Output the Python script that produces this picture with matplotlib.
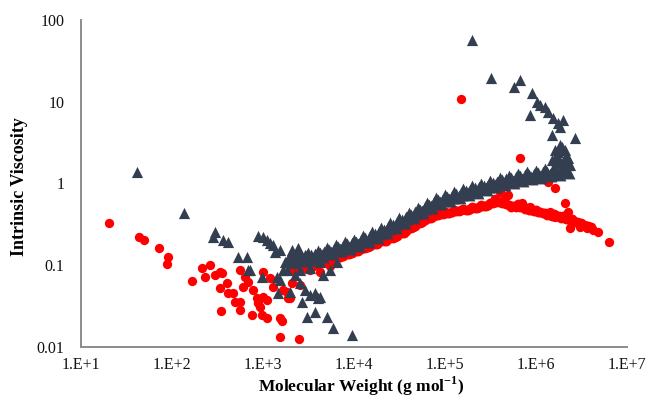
import numpy as np
import matplotlib
matplotlib.use("Agg")
import matplotlib.pyplot as plt

# upper series (triangles): dense band, read along both edges
dark_band_mw = [2.0e3, 2.24e3, 2.51e3, 2.82e3, 3.16e3, 3.55e3, 3.98e3, 4.47e3, 5.01e3, 5.62e3,
                6.31e3, 7.08e3, 7.94e3, 8.91e3, 1.0e4, 1.12e4, 1.26e4, 1.41e4, 1.58e4, 1.78e4,
                2.0e4, 2.24e4, 2.51e4, 2.82e4, 3.16e4, 3.55e4, 3.98e4, 4.47e4, 5.01e4, 5.62e4,
                6.31e4, 7.08e4, 7.94e4, 8.91e4, 1.0e5, 1.12e5, 1.26e5, 1.41e5, 1.58e5, 1.78e5,
                2.0e5, 2.24e5, 2.51e5, 2.82e5, 3.16e5, 3.55e5, 3.98e5, 4.47e5, 5.01e5, 5.62e5,
                6.31e5, 7.08e5, 7.94e5, 8.91e5, 1.0e6, 1.12e6, 1.26e6, 1.41e6, 1.58e6, 1.78e6,
                2.0e6, 2.24e6]
dark_band_iv = [0.128, 0.112, 0.133, 0.116, 0.136, 0.120, 0.144, 0.129, 0.157, 0.140,
                0.171, 0.153, 0.186, 0.164, 0.197, 0.179, 0.220, 0.200, 0.246, 0.223,
                0.275, 0.254, 0.318, 0.293, 0.365, 0.336, 0.420, 0.387, 0.484, 0.445,
                0.557, 0.513, 0.642, 0.574, 0.698, 0.624, 0.759, 0.680, 0.826, 0.741,
                0.900, 0.794, 0.951, 0.852, 1.036, 0.926, 1.126, 0.994, 1.19, 1.052,
                1.26, 1.11, 1.33, 1.16, 1.37, 1.21, 1.45, 1.26, 1.49, 1.30,
                1.53, 1.40]

# upper series: band centre
dark_mid_mw = [2.11e3, 2.37e3, 2.66e3, 2.99e3, 3.35e3, 3.76e3, 4.22e3, 4.73e3, 5.31e3, 5.96e3,
               6.68e3, 7.50e3, 8.41e3, 9.44e3, 1.06e4, 1.19e4, 1.33e4, 1.50e4, 1.68e4, 1.88e4,
               2.11e4, 2.37e4, 2.66e4, 2.99e4, 3.35e4, 3.76e4, 4.22e4, 4.73e4, 5.31e4, 5.96e4,
               6.68e4, 7.50e4, 8.41e4, 9.44e4, 1.06e5, 1.19e5, 1.33e5, 1.50e5, 1.68e5, 1.88e5,
               2.11e5, 2.37e5, 2.66e5, 2.99e5, 3.35e5, 3.76e5, 4.22e5, 4.73e5, 5.31e5, 5.96e5,
               6.68e5, 7.50e5, 8.41e5, 9.44e5, 1.06e6, 1.19e6, 1.33e6, 1.50e6, 1.68e6, 1.88e6,
               2.11e6]
dark_mid_iv = [0.120, 0.122, 0.124, 0.125, 0.128, 0.132, 0.136, 0.142, 0.148, 0.154,
               0.161, 0.168, 0.175, 0.180, 0.187, 0.198, 0.210, 0.222, 0.234, 0.248,
               0.264, 0.284, 0.305, 0.327, 0.350, 0.376, 0.403, 0.433, 0.464, 0.498,
               0.535, 0.574, 0.607, 0.633, 0.660, 0.688, 0.718, 0.750, 0.782, 0.816,
               0.845, 0.869, 0.900, 0.940, 0.980, 1.02, 1.058, 1.09, 1.12, 1.152,
               1.184, 1.218, 1.242, 1.26, 1.29, 1.327, 1.352, 1.372, 1.39, 1.41,
               1.44]

# upper series: scattered points
dark_mw = [41, 136, 297, 282, 363, 412, 531, 667, 684, 720, 881, 1000, 1107, 1194, 1288,
           1540, 1355, 975, 1427, 1660, 1838, 1982, 2140, 1540, 1462, 1982, 2550, 2900,
           2690, 3280, 4020, 3050, 3720, 5050, 5870, 9500, 4230, 4560, 3720, 3280, 4230,
           5450, 6500, 2550, 2250, 1745, 2085, 2425, 2900, 3450,
           1.98e5, 3.2e5, 5.73e5, 6.67e5, 9.03e5, 1.03e6, 1.11e6, 1.26e6, 1.36e6, 1.54e6,
           1.75e6, 1.98e6, 1.84e6, 8.6e5, 1.5e6, 2.69e6, 1.75e6, 1.93e6, 1.62e6, 2.08e6,
           2.37e6, 1.84e6, 1.62e6, 1.84e6, 2.08e6, 2.25e6, 1.75e6, 1.5e6, 1.98e6, 2.25e6]
dark_iv = [1.38, 0.435, 0.255, 0.222, 0.204, 0.192, 0.126, 0.126, 0.0875, 0.0875, 0.228,
           0.222, 0.204, 0.187, 0.177, 0.154, 0.145, 0.0718, 0.0718, 0.0875, 0.0875, 0.116,
           0.1065, 0.066, 0.0458, 0.0471, 0.0607, 0.0498, 0.0355, 0.0433, 0.0398, 0.0233,
           0.0268, 0.0233, 0.0171, 0.014, 0.0409, 0.076, 0.0458, 0.0925, 0.1096, 0.0875,
           0.1096, 0.0875, 0.076, 0.1096, 0.154, 0.163, 0.1335, 0.123,
           56.9, 19.5, 15.1, 18.5, 12.8, 9.93, 9.1, 8.6, 7.5, 6.3,
           5.5, 5.98, 4.9, 6.9, 3.92, 3.6, 2.43, 2.8, 1.94, 2.05,
           1.68, 1.83, 2.57, 2.96, 2.57, 2.05, 2.05, 1.94, 1.83, 1.7]

# lower series (circles): dense band
red_band_mw = [2.0e3, 2.24e3, 2.51e3, 2.82e3, 3.16e3, 3.55e3, 3.98e3, 4.47e3, 5.01e3, 5.62e3,
               6.31e3, 7.08e3, 7.94e3, 8.91e3, 1.0e4, 1.12e4, 1.26e4, 1.41e4, 1.58e4, 1.78e4,
               2.0e4, 2.24e4, 2.51e4, 2.82e4, 3.16e4, 3.55e4, 3.98e4, 4.47e4, 5.01e4, 5.62e4,
               6.31e4, 7.08e4, 7.94e4, 8.91e4, 1.0e5, 1.12e5, 1.26e5, 1.41e5, 1.58e5, 1.78e5,
               2.0e5, 2.24e5, 2.51e5, 2.82e5, 3.16e5, 3.55e5, 3.98e5, 4.47e5, 5.01e5, 5.62e5,
               6.31e5, 7.08e5, 7.94e5, 8.91e5, 1.0e6, 1.12e6, 1.26e6, 1.41e6, 1.58e6, 1.78e6,
               2.0e6, 2.24e6, 2.51e6, 2.82e6, 3.16e6, 3.55e6, 3.98e6]
red_band_iv = [0.092, 0.086, 0.099, 0.093, 0.105, 0.097, 0.111, 0.106, 0.120, 0.115,
               0.131, 0.126, 0.143, 0.137, 0.155, 0.150, 0.170, 0.166, 0.190, 0.183,
               0.206, 0.200, 0.224, 0.221, 0.251, 0.250, 0.287, 0.290, 0.333, 0.337,
               0.382, 0.383, 0.426, 0.421, 0.446, 0.440, 0.470, 0.458, 0.485, 0.470,
               0.510, 0.495, 0.540, 0.526, 0.575, 0.640, 0.600, 0.620, 0.545, 0.530,
               0.555, 0.525, 0.505, 0.480, 0.470, 0.445, 0.440, 0.415, 0.420, 0.395,
               0.395, 0.370, 0.365, 0.335, 0.325, 0.305, 0.295]

# lower series: lower edge of the band
red_mid_mw = [2.11e3, 2.37e3, 2.66e3, 2.99e3, 3.35e3, 3.76e3, 4.22e3, 4.73e3, 5.31e3, 5.96e3,
              6.68e3, 7.50e3, 8.41e3, 9.44e3, 1.06e4, 1.19e4, 1.33e4, 1.50e4, 1.68e4, 1.88e4,
              2.11e4, 2.37e4, 2.66e4, 2.99e4, 3.35e4, 3.76e4, 4.22e4, 4.73e4, 5.31e4, 5.96e4,
              6.68e4, 7.50e4, 8.41e4, 9.44e4, 1.06e5, 1.19e5, 1.33e5, 1.50e5, 1.68e5, 1.88e5,
              2.11e5, 2.37e5, 2.66e5, 2.99e5, 3.35e5, 3.76e5, 4.22e5, 4.73e5, 5.31e5, 5.96e5,
              6.68e5, 7.50e5, 8.41e5, 9.44e5, 1.06e6, 1.19e6, 1.33e6, 1.50e6, 1.68e6, 1.88e6,
              2.11e6, 2.37e6, 2.66e6, 2.99e6, 3.35e6, 3.76e6]
red_mid_iv = [0.085, 0.090, 0.094, 0.097, 0.099, 0.102, 0.106, 0.111, 0.115, 0.121,
              0.126, 0.131, 0.137, 0.143, 0.148, 0.156, 0.163, 0.172, 0.181, 0.191,
              0.199, 0.209, 0.216, 0.231, 0.246, 0.264, 0.283, 0.306, 0.330, 0.355,
              0.377, 0.398, 0.415, 0.428, 0.438, 0.450, 0.460, 0.468, 0.475, 0.485,
              0.497, 0.510, 0.525, 0.540, 0.575, 0.600, 0.585, 0.560, 0.520, 0.515,
              0.510, 0.490, 0.470, 0.455, 0.445, 0.430, 0.415, 0.405, 0.395, 0.380,
              0.370, 0.355, 0.340, 0.325, 0.310, 0.298]

# lower series: scattered points
red_mw = [20.3, 43.4, 49.2, 71.9, 90.4, 88.1, 166, 214, 231, 262, 297, 337, 337, 345, 412,
          402, 354, 468, 558, 603, 684, 776, 1000, 927, 1107, 757, 975, 1107, 1540, 1540,
          2490, 1288, 1660, 1982, 2085, 558, 634, 1000, 1194, 2550, 492, 558, 859, 881,
          1838, 1884, 1620, 3280, 4230, 5450,
          1.5e5, 6.67e5, 1.36e6, 1.62e6, 2.08e6, 4.02e5, 4.92e5, 7.02e5, 8.6e5, 1.43e6,
          1.62e6, 2.25e6, 2.49e6, 2.83e6, 2.37e6, 3.05e6, 3.63e6, 4.23e6, 4.8e6, 6.34e6]
red_iv = [0.329, 0.221, 0.204, 0.163, 0.126, 0.1036, 0.0642, 0.0925, 0.0718, 0.1007, 0.076,
          0.0827, 0.0527, 0.0276, 0.0458, 0.0607, 0.0804, 0.0458, 0.0355, 0.0542, 0.0624,
          0.0498, 0.0409, 0.0309, 0.0376, 0.0246, 0.0246, 0.0226, 0.0226, 0.0133, 0.0125,
          0.0542, 0.0498, 0.0398, 0.0607, 0.0875, 0.0718, 0.0827, 0.0698, 0.0573, 0.0355,
          0.0284, 0.0398, 0.0345, 0.0471, 0.0398, 0.0208, 0.0875, 0.0827, 0.098,
          10.8, 2.05, 1.04, 0.88, 0.577, 0.787, 0.723, 0.577, 0.516, 0.448,
          0.389, 0.448, 0.358, 0.338, 0.286, 0.294, 0.286, 0.270, 0.255, 0.192]

x_ticks = [1e1, 1e2, 1e3, 1e4, 1e5, 1e6, 1e7]
x_labels = ["1.E+1", "1.E+2", "1.E+3", "1.E+4", "1.E+5", "1.E+6", "1.E+7"]
y_ticks = [0.01, 0.1, 1, 10, 100]
y_labels = ["0.01", "0.1", "1", "10", "100"]

plt.rcParams['font.family'] = ['Liberation Serif', 'DejaVu Serif']
plt.rcParams['mathtext.fontset'] = 'custom'
plt.rcParams['mathtext.rm'] = 'Liberation Serif'
plt.rcParams['mathtext.bf'] = 'Liberation Serif:bold'

fig = plt.figure(figsize=(6.48, 3.97), dpi=100)
ax = fig.add_axes([0.125, 0.126, 0.8426, 0.8236])

red = '#FF0000'
navy = '#333F50'
ax.scatter(red_band_mw, red_band_iv, s=50, color=red, marker='o', linewidths=0, zorder=2)
ax.scatter(red_mid_mw, red_mid_iv, s=50, color=red, marker='o', linewidths=0, zorder=2)
ax.scatter(red_mw, red_iv, s=45, color=red, marker='o', linewidths=0, zorder=2)
ax.scatter(dark_band_mw, dark_band_iv, s=100, color=navy, marker='^', linewidths=0, zorder=3)
ax.scatter(dark_mid_mw, dark_mid_iv, s=100, color=navy, marker='^', linewidths=0, zorder=3)
ax.scatter(dark_mw, dark_iv, s=65, color=navy, marker='^', linewidths=0, zorder=3)

ax.set_xscale('log')
ax.set_yscale('log')
ax.set_xlim(10, 1e7)
ax.set_ylim(0.01, 100)
ax.set_xticks(x_ticks)
ax.set_xticklabels(x_labels)
ax.set_yticks(y_ticks)
ax.set_yticklabels(y_labels)
ax.minorticks_off()
ax.tick_params(length=0, labelsize=11.5, colors='#111111')
ax.tick_params(axis='x', pad=7)
ax.tick_params(axis='y', pad=12)

for side in ['top', 'right']:
    ax.spines[side].set_visible(False)
for side in ['left', 'bottom']:
    ax.spines[side].set_color('#8C8C8C')
    ax.spines[side].set_linewidth(1.4)

ax.set_xlabel(r'Molecular Weight (g mol$^{\mathbf{-1}}$)', fontsize=12.5, fontweight='bold')
ax.xaxis.set_label_coords(0.513, -0.085)
ax.set_ylabel('Intrinsic Viscosity', fontsize=13, fontweight='bold')
ax.yaxis.set_label_coords(-0.097, 0.49)

fig.savefig('out.png', dpi=100)
